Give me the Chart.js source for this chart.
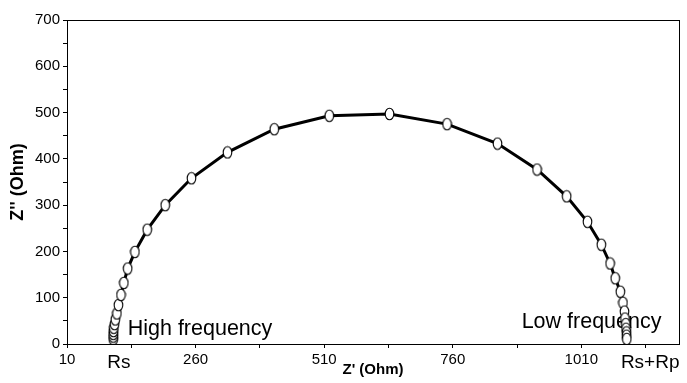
<!DOCTYPE html>
<html>
<head>
<meta charset="utf-8">
<script src="https://cdn.jsdelivr.net/npm/chart.js@4.4.1/dist/chart.umd.min.js"></script>
<style>
  html, body { margin: 0; padding: 0; background: #ffffff; }
  #wrap { width: 687px; height: 383px; position: relative; }
</style>
</head>
<body>
<div id="wrap"><canvas id="c" width="687" height="383"></canvas></div>
<script>
// ---- data ----
const zReal = [100, 100, 100, 100.5, 101, 102.5, 104, 107, 110, 115, 120.5, 128, 142, 166, 201, 252, 322, 413, 520, 637, 749, 847, 924, 981.5, 1022, 1049, 1066, 1076, 1086, 1091, 1094, 1095, 1096.5, 1097, 1098, 1098, 1098.5];
const zImag = [10, 16, 22, 28, 35, 43, 53, 66, 84, 106, 132, 163, 199, 247, 300, 358, 414, 464, 493, 497, 475, 433, 377, 319, 264, 214.5, 174, 142, 113, 89, 70, 55, 43, 33, 25, 18, 11];

// x-axis tick marks and labels
const xTickMarks = [10, 135, 260, 385, 510, 635, 760, 885, 1010, 1135];
const xLabelValues = [10, 111, 260, 510, 760, 1010, 1144];
const xLabelTexts = ['10', 'Rs', '260', '510', '760', '1010', 'Rs+Rp'];
const xBigLabels = ['Rs', 'Rs+Rp'];

// y-axis
const yMin = 0, yMax = 700, yStep = 50, yLabelStep = 100;
const xMin = 10, xMax = 1200;

// annotations
const noteTexts = ['High frequency', 'Low frequency'];
const noteX = [128, 894];
const noteY = [19.4, 34.6];

const FONT = "'Liberation Sans', Arial, Helvetica, sans-serif";

// ---- elliptical marker ----
const marker = document.createElement('canvas');
marker.width = 11; marker.height = 14;
(function () {
  const m = marker.getContext('2d');
  m.beginPath();
  m.ellipse(5.5, 7, 4.3, 5.8, 0, 0, Math.PI * 2);
  m.fillStyle = '#ffffff';
  m.fill();
  m.lineWidth = 1.1;
  m.strokeStyle = '#000000';
  m.stroke();
})();

const points = zReal.map((x, i) => ({ x: x, y: zImag[i] }));

// union of tick positions
const allXTicks = Array.from(new Set(xTickMarks.concat(xLabelValues))).sort((a, b) => a - b);
function xLabelFor(v) {
  const i = xLabelValues.indexOf(v);
  return i >= 0 ? xLabelTexts[i] : '';
}

const framePlugin = {
  id: 'frame',
  beforeDatasetsDraw(chart) {
    const a = chart.chartArea, ctx = chart.ctx;
    ctx.save();
    ctx.strokeStyle = '#000';
    ctx.lineWidth = 1;
    ctx.strokeRect(Math.round(a.left) + 0.5, Math.round(a.top) + 0.5, Math.round(a.right - a.left), Math.round(a.bottom - a.top));
    // annotations (behind the markers)
    ctx.fillStyle = '#000';
    ctx.font = '21.5px ' + FONT;
    ctx.textAlign = 'left';
    ctx.textBaseline = 'alphabetic';
    const xs = chart.scales.x, ys = chart.scales.y;
    noteTexts.forEach((t, i) => {
      ctx.fillText(t, xs.getPixelForValue(noteX[i]), ys.getPixelForValue(noteY[i]));
    });
    ctx.restore();
  }
};

new Chart(document.getElementById('c'), {
  type: 'scatter',
  data: {
    datasets: [{
      data: points,
      showLine: true,
      borderColor: '#000000',
      borderWidth: 3,
      pointStyle: marker,
      pointRadius: 5,
      pointHoverRadius: 5,
      backgroundColor: '#ffffff',
      tension: 0
    }]
  },
  plugins: [framePlugin],
  options: {
    responsive: false,
    animation: false,
    events: [],
    layout: { padding: { top: 20, right: 6, left: 0, bottom: 0 } },
    plugins: { legend: { display: false }, tooltip: { enabled: false } },
    scales: {
      x: {
        type: 'linear',
        min: xMin, max: xMax,
        afterBuildTicks(scale) { scale.ticks = allXTicks.map(v => ({ value: v })); },
        afterFit(scale) { scale.height = 39; scale.paddingLeft = 0; scale.paddingRight = 0; },
        grid: {
          drawOnChartArea: false, drawTicks: true, tickLength: 4,
          tickColor: (ctx) => (ctx.tick && xTickMarks.indexOf(ctx.tick.value) >= 0) ? '#000' : 'rgba(0,0,0,0)',
          color: '#000'
        },
        border: { display: true, color: '#000', width: 1 },
        ticks: {
          autoSkip: false, maxRotation: 0, padding: 3, color: '#000',
          font: (ctx) => ({ family: FONT, size: (ctx.tick && xBigLabels.indexOf(xLabelFor(ctx.tick.value)) >= 0) ? 19 : 15 }),
          callback: (v) => xLabelFor(v)
        },
        title: {
          display: true, text: "Z' (Ohm)", color: '#000',
          font: { family: FONT, size: 15, weight: 'bold' },
          padding: { top: 0, bottom: 4 }
        }
      },
      y: {
        type: 'linear',
        min: yMin, max: yMax,
        ticks: {
          stepSize: yStep, autoSkip: false, padding: 3, color: '#000',
          font: { family: FONT, size: 15 },
          callback: (v) => (v % yLabelStep === 0 ? String(v) : '')
        },
        afterFit(scale) { scale.width = 67; scale.paddingTop = 0; scale.paddingBottom = 0; },
        grid: { drawOnChartArea: false, drawTicks: true, tickLength: 4, tickColor: '#000', color: '#000' },
        border: { display: true, color: '#000', width: 1 },
        title: {
          display: true, text: "Z'' (Ohm)", color: '#000',
          font: { family: FONT, size: 18, weight: 'bold' },
          padding: { top: 7, bottom: 0 }
        }
      }
    }
  }
});
</script>
</body>
</html>
